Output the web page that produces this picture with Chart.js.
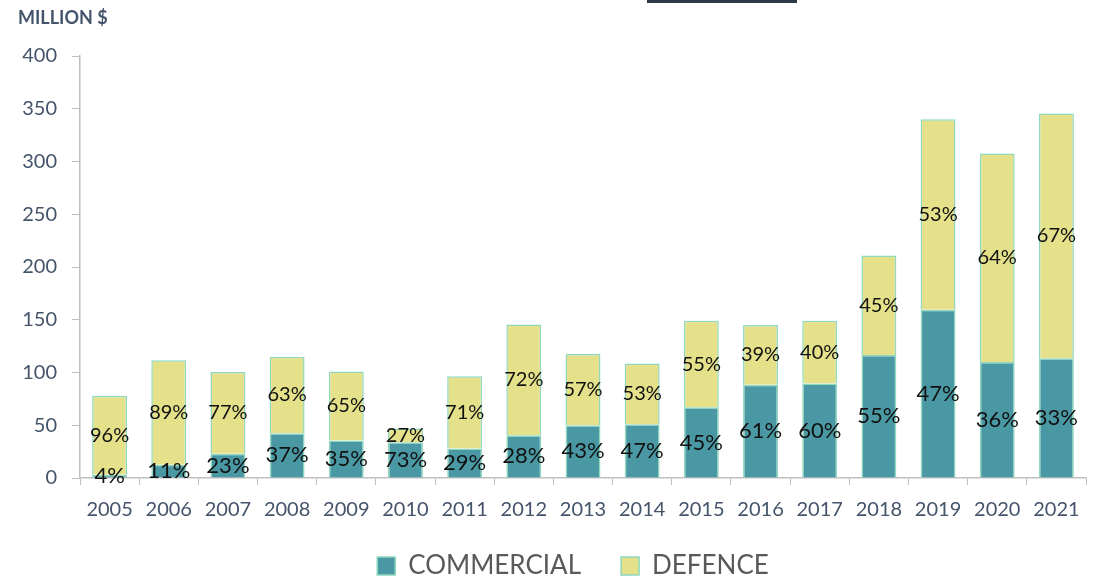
<!DOCTYPE html>
<html>
<head>
<meta charset="utf-8">
<script src="https://cdn.jsdelivr.net/npm/chart.js@4"></script>
<style>
  body { margin: 0; background: #fff; }
  #wrap { position: relative; width: 1098px; height: 579px; }
  #unit { position: absolute; left: 18px; top: 6px; font: bold 18px Lato, sans-serif; color: #44546A; }
  #bar { position: absolute; left: 647px; top: 0; width: 150px; height: 3px; background: #2F3A47; }
</style>
</head>
<body>
<div id="wrap">
  <canvas id="myChart" width="1098" height="579"></canvas>
  <div id="unit">MILLION $</div>
  <div id="bar"></div>
</div>
<script>
// years
let years = ["2005", "2006", "2007", "2008", "2009", "2010", "2011", "2012", "2013",
  "2014", "2015", "2016", "2017", "2018", "2019", "2020", "2021"];
// million $
let commercial = [3, 12.5, 23, 42.5, 35.5, 34, 28, 40.5, 50, 51, 67, 88.5, 89.5, 116.5, 159.5, 110, 113.5];
let defence = [75, 99, 77.5, 72.5, 65.5, 13, 68.5, 105, 67.5, 57.5, 82, 56.5, 59.5, 94.5, 180.5, 197.5, 232];
// share labels as printed
let commercialPct = ["4%", "11%", "23%", "37%", "35%", "73%", "29%", "28%", "43%", "47%", "45%", "61%", "60%", "55%", "47%", "36%", "33%"];
let defencePct = ["96%", "89%", "77%", "63%", "65%", "27%", "71%", "72%", "57%", "53%", "55%", "39%", "40%", "45%", "53%", "64%", "67%"];
let yTicks = [0, 50, 100, 150, 200, 250, 300, 350, 400];

let axisColor = "#44546A";
let lineColor = "#BFBFBF";

// 棒の中にラベルを描く
let pctLabels = {
    id: "pctLabels",
    afterDatasetsDraw: function (chart) {
        let ctx = chart.ctx;
        let lists = [commercialPct, defencePct];
        let sizes = [22, 20];
        ctx.save();
        ctx.fillStyle = "#111";
        ctx.textAlign = "center";
        ctx.textBaseline = "middle";
        chart.data.datasets.forEach(function (ds, i) {
            let meta = chart.getDatasetMeta(i);
            ctx.font = sizes[i] + "px Lato";
            meta.data.forEach(function (el, j) {
                ctx.fillText(lists[i][j], el.x, (el.y + el.base) / 2);
            });
        });
        ctx.restore();
    }
};

// 凡例の位置を少しずらす
let legendShift = {
    id: "legendShift",
    afterLayout: function (chart) {
        let lg = chart.legend;
        lg.top -= 22;
        lg.bottom -= 22;
        lg.left += 30;
        lg.right += 30;
    }
};

let ctx = document.getElementById("myChart").getContext("2d");
let myChart = new Chart(ctx, {
    type: "bar",
    data: {
        labels: years,
        datasets: [{
            label: "COMMERCIAL",
            data: commercial,
            backgroundColor: "#4A98A3",
            borderColor: "#8ED8BE",
            borderWidth: 1.5,
            barPercentage: 0.59,
            categoryPercentage: 1
        }, {
            label: "DEFENCE",
            data: defence,
            backgroundColor: "#E4E18A",
            borderColor: "#8ED8BE",
            borderWidth: 1.5,
            barPercentage: 0.59,
            categoryPercentage: 1
        }]
    },
    options: {
        responsive: false,
        animation: false,
        layout: { padding: { left: 0, right: 12, top: 56, bottom: -32 } },
        plugins: {
            tooltip: { enabled: false },
            legend: {
                position: "bottom",
                labels: {
                    font: { family: "Lato", size: 26 },
                    color: "#595959",
                    boxWidth: 18,
                    boxHeight: 18,
                    padding: 40
                }
            }
        },
        scales: {
            x: {
                stacked: true,
                border: { color: lineColor, width: 1.5 },
                grid: { display: true, drawOnChartArea: false, color: lineColor, tickLength: 7, offset: true },
                ticks: { color: axisColor, font: { family: "Lato", size: 20 }, padding: 13, maxRotation: 0 }
            },
            y: {
                stacked: true,
                min: 0,
                max: 400,
                afterBuildTicks: function (axis) {
                    axis.ticks = yTicks.map(function (v) { return { value: v }; });
                },
                afterFit: function (axis) { axis.width = 80; },
                border: { color: lineColor, width: 1.5 },
                grid: { display: true, drawOnChartArea: false, color: lineColor, tickLength: 8 },
                ticks: { color: axisColor, font: { family: "Lato", size: 20 }, padding: 15 }
            }
        }
    },
    plugins: [pctLabels, legendShift]
});
</script>
</body>
</html>
